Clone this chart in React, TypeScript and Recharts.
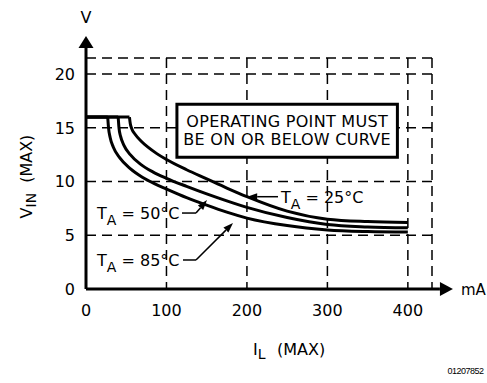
import React from "react";
import {
  LineChart,
  Line,
  XAxis,
  YAxis,
  CartesianGrid,
  ReferenceLine,
  ReferenceArea,
  ReferenceDot,
} from "recharts";

const FONT = "'DejaVu Sans', sans-serif";

// I_L (mA) ticks and V_IN (V) ticks
const xTicks = [0, 100, 200, 300, 400];
const yTicks = [0, 5, 10, 15, 20];

// input limit level shared by all curves
const vLimit = 16;

// curves start where they leave the 16 V limit
const curve25 = [
  { i: 54, v: 16 }, { i: 55, v: 15.4 }, { i: 57, v: 14.9 }, { i: 61, v: 14.4 },
  { i: 68, v: 13.8 }, { i: 77, v: 13.2 }, { i: 88, v: 12.6 }, { i: 100, v: 12.05 },
  { i: 125, v: 11.1 }, { i: 150, v: 10.25 }, { i: 175, v: 9.4 }, { i: 200, v: 8.6 },
  { i: 250, v: 7.25 }, { i: 300, v: 6.5 }, { i: 350, v: 6.28 }, { i: 400, v: 6.2 },
];
const curve50 = [
  { i: 40, v: 16 }, { i: 41, v: 15 }, { i: 43, v: 14.2 }, { i: 47, v: 13.4 },
  { i: 55, v: 12.5 }, { i: 68, v: 11.6 }, { i: 83, v: 10.9 }, { i: 100, v: 10.3 },
  { i: 125, v: 9.55 }, { i: 150, v: 8.85 }, { i: 175, v: 8.2 }, { i: 200, v: 7.6 },
  { i: 250, v: 6.65 }, { i: 300, v: 6.0 }, { i: 350, v: 5.78 }, { i: 400, v: 5.7 },
];
const curve85 = [
  { i: 27, v: 16 }, { i: 28, v: 15 }, { i: 30, v: 14.1 }, { i: 34, v: 13.2 },
  { i: 42, v: 12.2 }, { i: 55, v: 11.2 }, { i: 70, v: 10.4 }, { i: 85, v: 9.8 },
  { i: 100, v: 9.3 }, { i: 125, v: 8.5 }, { i: 150, v: 7.8 }, { i: 175, v: 7.15 },
  { i: 200, v: 6.6 }, { i: 250, v: 5.9 }, { i: 300, v: 5.5 }, { i: 350, v: 5.35 },
  { i: 400, v: 5.3 },
];
const curves = [curve25, curve50, curve85];

const boxLines = ["OPERATING POINT MUST", "BE ON OR BELOW CURVE"];

const arrowShape = (len: number, half: number, width: number) => (p: any) => {
  const { x1, y1, x2, y2 } = p;
  const a = Math.atan2(y2 - y1, x2 - x1);
  const c = Math.cos(a);
  const s = Math.sin(a);
  const bx = x2 - len * c;
  const by = y2 - len * s;
  const pts = `${x2},${y2} ${bx - half * s},${by + half * c} ${bx + half * s},${by - half * c}`;
  return (
    <g>
      <line x1={x1} y1={y1} x2={bx} y2={by} stroke="#000" strokeWidth={width} />
      <polygon points={pts} fill="#000" />
    </g>
  );
};

const plainShape = (width: number) => (p: any) => (
  <line x1={p.x1} y1={p.y1} x2={p.x2} y2={p.y2} stroke="#000" strokeWidth={width} />
);

const taLabel = (temp: string) => (p: any) => (
  <text x={p.cx} y={p.cy} fontFamily={FONT} fontSize={16} fill="#000">
    T<tspan dy={6} fontSize={14}>A</tspan>
    <tspan dy={-6}>{` = ${temp}°C`}</tspan>
  </text>
);

const textShape = (txt: string, anchor: string = "start", size = 16) => (p: any) => (
  <text x={p.cx} y={p.cy} fontFamily={FONT} fontSize={size} fill="#000" textAnchor={anchor}>
    {txt}
  </text>
);

const boxLabel = (p: any) => {
  const vb = p.viewBox;
  const cx = vb.x + vb.width / 2;
  return (
    <g>
      {boxLines.map((t, k) => (
        <text
          key={t}
          x={cx}
          y={vb.y + 23 + k * 18}
          textAnchor="middle"
          fontFamily={FONT}
          fontSize={16}
          letterSpacing={0.3}
          fill="#000"
        >
          {t}
        </text>
      ))}
    </g>
  );
};

const yTitle = (p: any) => {
  const vb = p.viewBox;
  const x = vb.x - 14;
  const y = vb.y + vb.height / 2 + 3;
  return (
    <text
      x={x}
      y={y}
      transform={`rotate(-90 ${x} ${y})`}
      textAnchor="middle"
      fontFamily={FONT}
      fontSize={16}
      fill="#000"
    >
      V<tspan dy={4} fontSize={14}>IN</tspan>
      <tspan dx={10} dy={-4}>(MAX)</tspan>
    </text>
  );
};

const xTitle = (p: any) => {
  const vb = p.viewBox;
  const y = vb.y + 66;
  return (
    <text x={253} y={y} fontFamily={FONT} fontSize={16} fill="#000">
      I<tspan dy={4} fontSize={14}>L</tspan>
      <tspan x={277} dy={-4}>(MAX)</tspan>
    </text>
  );
};

export default function App() {
  return (
    <div style={{ position: "absolute", left: 0, top: 0, background: "#fff" }}>
      <LineChart
        width={487}
        height={383}
        margin={{ top: 58, right: 55, bottom: 64, left: 46 }}
      >
        <CartesianGrid stroke="#000" strokeWidth={1.5} strokeDasharray="10 6" />
        <XAxis
          type="number"
          dataKey="i"
          domain={[0, 430]}
          ticks={xTicks}
          allowDataOverflow
          axisLine={false}
          tickLine={false}
          tickMargin={10}
          height={30}
          tick={{ fill: "#000", fontSize: 16, fontFamily: FONT }}
          label={{ content: xTitle }}
        />
        <YAxis
          type="number"
          dataKey="v"
          domain={[0, 21.5]}
          ticks={yTicks}
          allowDataOverflow
          axisLine={false}
          tickLine={false}
          tickMargin={5}
          width={40}
          tick={{ fill: "#000", fontSize: 16, fontFamily: FONT }}
          label={{ content: yTitle }}
        />

        <ReferenceArea
          x1={113}
          x2={387}
          y1={12.27}
          y2={17.2}
          fill="#fff"
          fillOpacity={1}
          stroke="#000"
          strokeWidth={3}
          ifOverflow="visible"
          label={{ content: boxLabel }}
        />

        {/* axes with arrow heads */}
        <ReferenceLine
          segment={[{ x: 0, y: 0 }, { x: 456, y: 0 }]}
          ifOverflow="visible"
          shape={arrowShape(13, 7, 3)}
        />
        <ReferenceLine
          segment={[{ x: 0, y: 0 }, { x: 0, y: 23.55 }]}
          ifOverflow="visible"
          shape={arrowShape(12, 7.5, 3)}
        />

        {curves.map((c, k) => (
          <Line
            key={`flat${k}`}
            data={[{ i: 0, v: vLimit }, { i: c[0].i, v: vLimit }]}
            dataKey="v"
            type="linear"
            stroke="#000"
            strokeWidth={3}
            dot={false}
            activeDot={false}
            isAnimationActive={false}
          />
        ))}
        {curves.map((c, k) => (
          <Line
            key={`curve${k}`}
            data={c}
            dataKey="v"
            type="monotone"
            stroke="#000"
            strokeWidth={3}
            dot={false}
            activeDot={false}
            isAnimationActive={false}
          />
        ))}

        {/* temperature callouts */}
        <ReferenceLine
          segment={[{ x: 238.6, y: 8.59 }, { x: 200.3, y: 8.59 }]}
          ifOverflow="visible"
          shape={arrowShape(10, 3.5, 1.5)}
        />
        <ReferenceLine
          segment={[{ x: 119.3, y: 7.07 }, { x: 136.7, y: 7.07 }]}
          ifOverflow="visible"
          shape={plainShape(1.5)}
        />
        <ReferenceLine
          segment={[{ x: 136.7, y: 7.07 }, { x: 150.4, y: 8.28 }]}
          ifOverflow="visible"
          shape={arrowShape(10, 3.5, 1.5)}
        />
        <ReferenceLine
          segment={[{ x: 120.5, y: 2.7 }, { x: 136.7, y: 2.7 }]}
          ifOverflow="visible"
          shape={plainShape(1.5)}
        />
        <ReferenceLine
          segment={[{ x: 136.7, y: 2.7 }, { x: 182.7, y: 6.14 }]}
          ifOverflow="visible"
          shape={arrowShape(10, 3.5, 1.5)}
        />
        <ReferenceDot x={242.3} y={8.03} r={0} ifOverflow="visible" shape={taLabel("25")} />
        <ReferenceDot x={13.7} y={6.52} r={0} ifOverflow="visible" shape={taLabel("50")} />
        <ReferenceDot x={13.7} y={2.14} r={0} ifOverflow="visible" shape={taLabel("85")} />

        {/* unit captions at the axis ends */}
        <ReferenceDot x={0} y={24.76} r={0} ifOverflow="visible" shape={textShape("V", "middle")} />
        <ReferenceDot x={466} y={-0.6} r={0} ifOverflow="visible" shape={textShape("mA", "start", 15)} />
        <ReferenceDot
          x={494}
          y={-7.9}
          r={0}
          ifOverflow="visible"
          shape={(p: any) => (
            <text
              x={p.cx}
              y={p.cy}
              textAnchor="end"
              fontFamily="'Liberation Sans', Arial, sans-serif"
              fontSize={9}
              letterSpacing={-0.5}
              fill="#000"
            >
              01207852
            </text>
          )}
        />
      </LineChart>
    </div>
  );
}
